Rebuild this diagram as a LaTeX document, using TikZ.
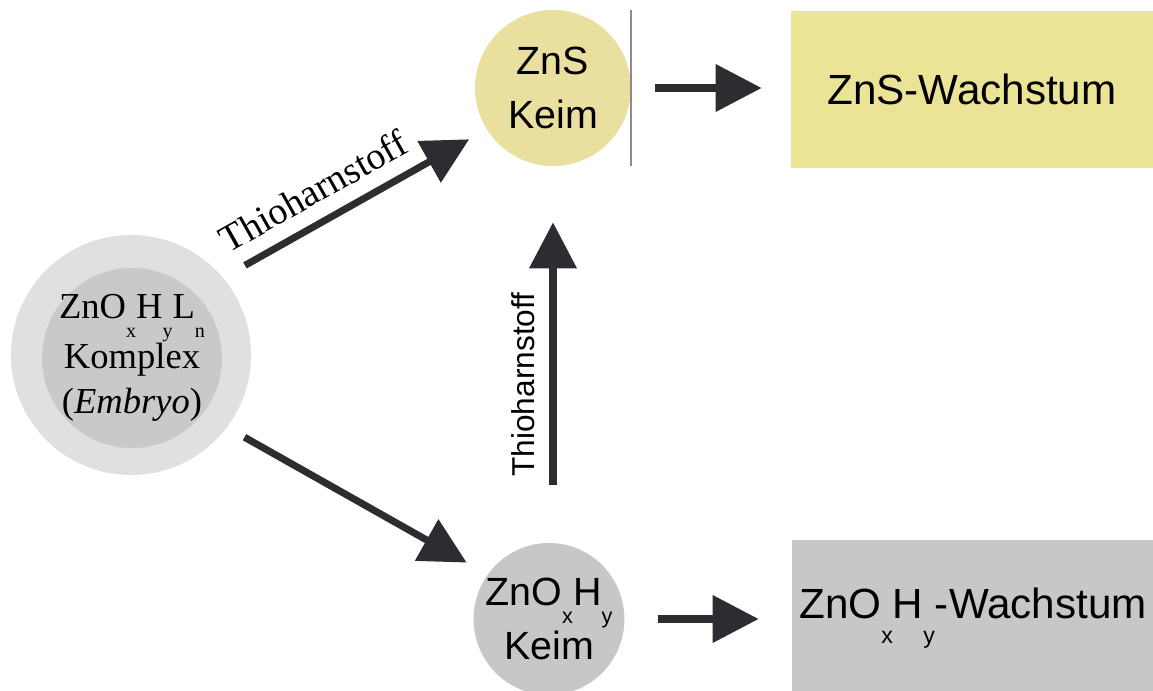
\documentclass[tikz,border=0pt]{standalone}
\usepackage{fontspec}
\setmainfont{Liberation Serif}
\setsansfont{Liberation Sans}
\usetikzlibrary{shapes,arrows.meta,positioning,calc}

\definecolor{hullgray}{HTML}{E0E0E0}
\definecolor{coregray}{HTML}{C9C9C9}
\definecolor{znsyellow}{HTML}{E9E09F}
\definecolor{znsfield}{HTML}{EBE497}
\definecolor{znogray}{HTML}{C6C7C9}
\definecolor{arrowdark}{HTML}{2B2D30}
\definecolor{edgegray}{HTML}{8C8C8C}

% lowered index as in the figure
\newcommand{\idx}[2][-1ex]{\raisebox{#1}{\scalebox{0.55}{#2}}}

\begin{document}
\begin{tikzpicture}[
  x=0.025cm, y=-0.025cm,
  keim/.style={circle, inner sep=0pt, align=center, font=\sffamily\fontsize{28}{39}\selectfont},
  growth/.style={rectangle, inner sep=0pt, minimum width=9.05cm, minimum height=3.925cm, font=\sffamily\fontsize{30}{36}\selectfont},
  arrow/.style={-{Triangle[length=1.15cm, width=1.15cm]}, line width=5pt, draw=arrowdark},
  reagent/.style={inner sep=0pt, outer sep=0.45cm, sloped, above}
]
\useasboundingbox (0,0) rectangle (1153,691);

% Komplex (Embryo)
\node[circle, fill=hullgray, minimum size=6cm, inner sep=0pt] (hull) at (131,355) {};
\node[circle, fill=coregray, minimum size=4.5cm, inner sep=-0.2cm, align=center, font=\fontsize{26}{32}\selectfont] (embryo) at (132,358) {ZnO\idx[-1.1ex]{x}H\idx[-1.1ex]{y}L\idx[-1.1ex]{n}\\Komplex\\(\textit{Embryo})};

% Keime
\node[keim, fill=znsyellow, minimum size=3.9cm] (zns) at (553,88) {ZnS\\Keim};
\node[keim, ellipse, inner sep=-0.25cm, fill=znogray, minimum width=3.65cm, minimum height=3.8cm] (zno) at (549,619) {ZnO\idx[-0.9ex]{x}H\idx[-0.9ex]{y}\\Keim};
\draw[edgegray, line width=1.2pt] (zns.east |- zns.north) -- (zns.east |- zns.south);

% Wachstum
\node[growth, fill=znsfield] (wzns) at (972,89.5) {ZnS-Wachstum};
\node[growth, fill=znogray, minimum height=3.9cm] (wzno) at (973,618) {ZnO\idx[-1.1ex]{x}H\idx[-1.1ex]{y}-Wachstum};

\draw[arrow, shorten <=0.625cm, shorten >=0.5cm] (hull.40) -- (zns.212)
  node[reagent, pos=0.4, font=\fontsize{27}{30}\selectfont] {Thioharnstoff};
\draw[arrow, shorten <=0.5cm, shorten >=0.6cm] (hull.-37) -- (zno.144);
\draw[arrow, shorten <=1.45cm, shorten >=1.4cm] (zno.north -| zns.south) -- (zns.south)
  node[reagent, pos=0.42, font=\sffamily\fontsize{22.5}{27}\selectfont] {Thioharnstoff};
\draw[arrow, shorten <=0.6cm, shorten >=0.725cm] (zns.east) -- (zns.east -| wzns.west);
\draw[arrow, shorten <=0.825cm, shorten >=0.825cm] (zno.east) -- (zno.east -| wzno.west);
\end{tikzpicture}
\end{document}
